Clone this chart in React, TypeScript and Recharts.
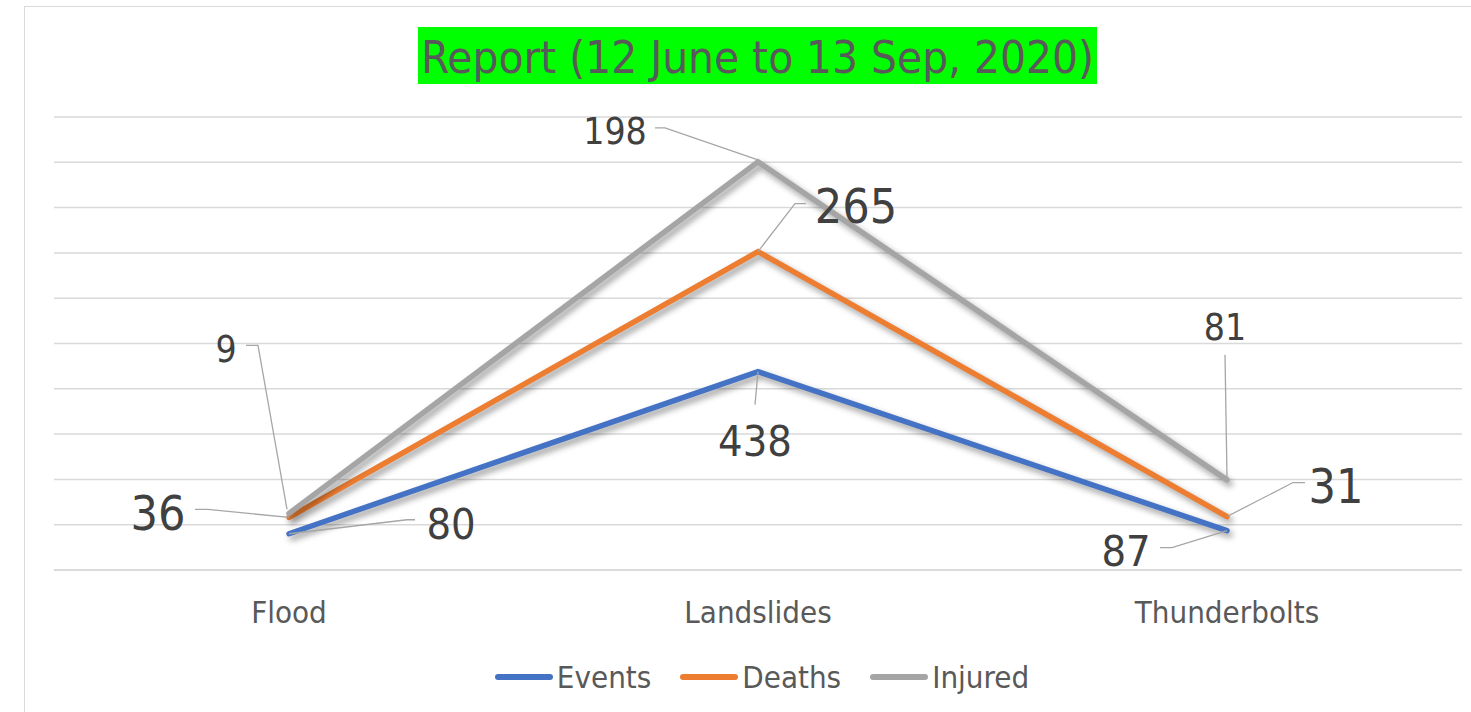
import React from "react";
import { AreaChart, Area, XAxis, YAxis, CartesianGrid, Legend, LabelList } from "recharts";

// values (stacked lines, Excel style)
const categories = ["Flood", "Landslides", "Thunderbolts"];
const events = [80, 438, 87];
const deaths = [36, 265, 31];
const injured = [9, 198, 81];
const yTicks = [0, 100, 200, 300, 400, 500, 600, 700, 800, 900, 1000];

const data = categories.map((name, i) => ({
  name,
  events: events[i],
  deaths: deaths[i],
  injured: injured[i],
}));

const FONT = "'DejaVu Sans Condensed', 'DejaVu Sans', sans-serif";
const TEXT = "#595959";

// callout placement for each data label: text centre offset and leader path, relative to the point
const labelLayout: Record<string, { dx: number; dy: number; path: number[][] }[]> = {
  events: [
    { dx: 162, dy: -10, path: [[0, 0], [118, -14], [126, -14]] },
    { dx: -3, dy: 69, path: [[0, 0], [-3, 33]] },
    { dx: -101, dy: 20, path: [[0, 0], [-55, 17], [-67, 17]] },
  ],
  deaths: [
    { dx: -131, dy: -5, path: [[0, 0], [-81, -8], [-94, -8]] },
    { dx: 98, dy: -46, path: [[0, 0], [37, -48], [48, -48]] },
    { dx: 109, dy: -31, path: [[0, 0], [66, -34], [78, -34]] },
  ],
  injured: [
    { dx: -63, dy: -165, path: [[-2, -4], [-31, -168], [-43, -168]] },
    { dx: -143, dy: -31, path: [[0, -2], [-93, -34], [-103, -34]] },
    { dx: -2, dy: -153, path: [[0, -2], [-2, -125]] },
  ],
};

const series = [
  { key: "events", label: "Events", color: "#4472C4", values: events, fontSize: 43 },
  { key: "deaths", label: "Deaths", color: "#ED7D31", values: deaths, fontSize: 48 },
  { key: "injured", label: "Injured", color: "#A5A5A5", values: injured, fontSize: 37 },
];

function makeLabel(key: string, values: number[], fontSize: number) {
  return (props: any) => {
    const x = props.x ?? props.viewBox?.x;
    const y = props.y ?? props.viewBox?.y;
    const lay = labelLayout[key][props.index];
    if (x == null || y == null || !lay) return null;
    const pts = lay.path.map(([a, b]) => `${x + a},${y + b}`).join(" ");
    return (
      <g>
        <polyline points={pts} fill="none" stroke="#a6a6a6" strokeWidth={1.3} />
        <text
          x={x + lay.dx}
          y={y + lay.dy + fontSize * 0.365}
          textAnchor="middle"
          fontSize={fontSize}
          fontFamily={FONT}
          fill="#404040"
        >
          {values[props.index]}
        </text>
      </g>
    );
  };
}

function renderLegend() {
  return (
    <div
      style={{
        height: 50,
        display: "flex",
        justifyContent: "center",
        alignItems: "center",
        paddingLeft: 8,
        fontFamily: FONT,
        fontSize: 31,
        color: TEXT,
      }}
    >
      {series.map((s, i) => (
        <div
          key={s.key}
          style={{ display: "flex", alignItems: "center", marginRight: i < series.length - 1 ? 29 : 0 }}
        >
          <span style={{ width: 58, height: 6, borderRadius: 3, background: s.color, display: "inline-block" }} />
          <span style={{ marginLeft: 4 }}>{s.label}</span>
        </div>
      ))}
    </div>
  );
}

export default function App() {
  return (
    <div style={{ position: "absolute", left: 0, top: 0, width: 1471, height: 712, overflow: "hidden", background: "#fff" }}>
      <style>{`.recharts-area-curve { filter: drop-shadow(3px 4px 3px rgba(0,0,0,0.4)); }`}</style>
      <div
        style={{
          position: "absolute",
          left: 24,
          top: 6,
          width: 1600,
          height: 800,
          border: "1.5px solid #d9d9d9",
        }}
      />
      <svg style={{ position: "absolute", left: 418, top: 27 }} width={679} height={57}>
        <rect width={679} height={57} fill="#00ff00" />
        <text
          x={3}
          y={46}
          fontSize={45}
          fontFamily={FONT}
          fill={TEXT}
          textLength={673}
          lengthAdjust="spacingAndGlyphs"
        >
          Report (12 June to 13 Sep, 2020)
        </text>
      </svg>
      <div style={{ position: "absolute", left: 0, top: 0 }}>
        <AreaChart width={1471} height={712} data={data} margin={{ top: 117, right: 9, left: 54, bottom: 10 }}>
          <CartesianGrid vertical={false} stroke="#d9d9d9" strokeWidth={1.5} />
          <XAxis
            dataKey="name"
            height={82}
            padding={{ left: 235, right: 235 }}
            tickLine={false}
            axisLine={{ stroke: "#d9d9d9", strokeWidth: 1.5 }}
            tickMargin={25}
            tick={{ fill: TEXT, fontSize: 31, fontFamily: FONT }}
          />
          <YAxis hide domain={[0, 1000]} ticks={yTicks} />
          <Legend verticalAlign="bottom" height={50} content={renderLegend} />
          {series.map((s) => (
            <Area
              key={s.key}
              type="linear"
              dataKey={s.key}
              name={s.label}
              stackId="total"
              stroke={s.color}
              strokeWidth={5.5}
              strokeLinecap="round"
              fill="none"
              dot={false}
              activeDot={false}
              isAnimationActive={false}
            >
              <LabelList content={makeLabel(s.key, s.values, s.fontSize)} />
            </Area>
          ))}
        </AreaChart>
      </div>
    </div>
  );
}
